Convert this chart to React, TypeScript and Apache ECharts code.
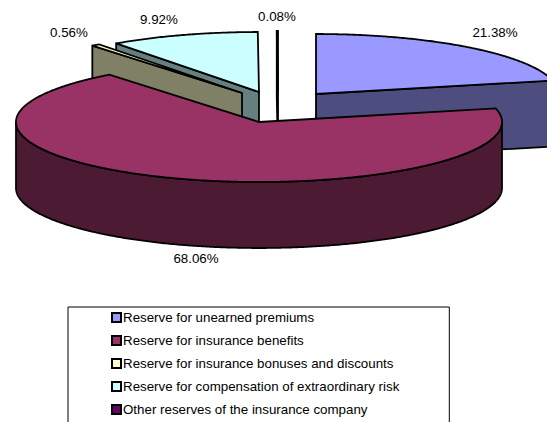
import React, { useEffect, useRef } from "react";
import * as echarts from "echarts";

const categories = [
  "Reserve for unearned premiums",
  "Reserve for insurance benefits",
  "Reserve for insurance bonuses and discounts",
  "Reserve for compensation of extraordinary risk",
  "Other reserves of the insurance company",
];
const shares = [21.38, 68.06, 0.56, 9.92, 0.08];

const topColors = ["#9999ff", "#993366", "#ffffcc", "#ccffff", "#660066"];
const wallColors = ["#4d4d80", "#4d1a33", "#808066", "#668080", "#330033"];
const centersX = [316, 259, 242, 259, 278];
const centersY = [94, 122, 93, 92, 91];
const labelsX = [495, 196, 69, 159, 277];
const labelsY = [32, 258, 32, 19, 16];
const drawOrder = [0, 4, 3, 2, 1];

const RX = 243;
const RY = 60;
const DEPTH = 66;
const LW = 1.8;

const total = shares.reduce((a, b) => a + b, 0);
const starts = shares.map((_, i) => (shares.slice(0, i).reduce((a, b) => a + b, 0) / total) * 360);

function arc(cx: number, cy: number, a0: number, a1: number, dy = 0) {
  const pts: number[][] = [];
  const n = Math.max(1, Math.ceil((a1 - a0) * 2));
  for (let k = 0; k <= n; k++) {
    const r = ((a0 + ((a1 - a0) * k) / n) * Math.PI) / 180;
    pts.push([cx + RX * Math.sin(r), cy - RY * Math.cos(r) + dy]);
  }
  return pts;
}

function renderSlice(i: number) {
  return () => {
    const cx = centersX[i];
    const cy = centersY[i];
    const a0 = starts[i];
    const a1 = a0 + (shares[i] / total) * 360;
    const style = (fill: string) => ({ fill, stroke: "#000", lineWidth: LW, lineJoin: "miter" });
    const poly = (points: number[][], fill: string) => ({
      type: "polygon",
      shape: { points },
      style: style(fill),
    });
    const children: any[] = [];
    const cut = (a: number) => {
      const p = arc(cx, cy, a, a)[0];
      children.push(
        poly([[cx, cy], p, [p[0], p[1] + DEPTH], [cx, cy + DEPTH]], wallColors[i])
      );
    };
    if (Math.sin((a0 * Math.PI) / 180) < -1e-6) cut(a0);
    if (Math.sin((a1 * Math.PI) / 180) > 1e-6) cut(a1);
    const w0 = Math.max(a0, 90);
    const w1 = Math.min(a1, 270);
    if (w1 > w0) {
      const upper = arc(cx, cy, w0, w1);
      const lower = arc(cx, cy, w0, w1, DEPTH).reverse();
      children.push(poly(upper.concat(lower), wallColors[i]));
    }
    children.push(poly([[cx, cy]].concat(arc(cx, cy, a0, a1)), topColors[i]));
    children.push({
      type: "text",
      style: {
        x: labelsX[i],
        y: labelsY[i],
        text: shares[i].toFixed(2) + "%",
        fill: "#000",
        font: "13.33px 'Liberation Sans', Arial, sans-serif",
        align: "center",
        verticalAlign: "middle",
      },
    });
    return { type: "group", children };
  };
}

export default function App() {
  const ref = useRef<HTMLDivElement>(null);
  useEffect(() => {
    document.body.style.margin = "0";
    const chart = echarts.init(ref.current!, undefined, { renderer: "svg" });
    chart.setOption({
      animation: false,
      backgroundColor: "#fff",
      legend: {
        show: true,
        orient: "vertical",
        left: 68,
        top: 307,
        height: 160,
        padding: [4, 50, 30, 43],
        itemGap: 10,
        itemWidth: 9,
        itemHeight: 9,
        borderColor: "#000",
        borderWidth: 1,
        selectedMode: false,
        align: "left",
        textStyle: {
          color: "#000",
          fontSize: 13.33,
          fontFamily: "'Liberation Sans', Arial, sans-serif",
          padding: [0, 0, 0, -3],
        },
        data: categories.map((name, i) => ({
          name,
          icon: "rect",
          itemStyle: { color: topColors[i], borderColor: "#000", borderWidth: 2 },
        })),
      },
      series: drawOrder.map((i) => ({
        type: "custom",
        name: categories[i],
        coordinateSystem: "none",
        silent: true,
        itemStyle: { color: topColors[i] },
        data: [[shares[i]]],
        renderItem: renderSlice(i),
      })),
    });
    return () => chart.dispose();
  }, []);
  return <div ref={ref} style={{ position: "absolute", left: 0, top: 0, width: 547, height: 422, overflow: "hidden" }} />;
}
